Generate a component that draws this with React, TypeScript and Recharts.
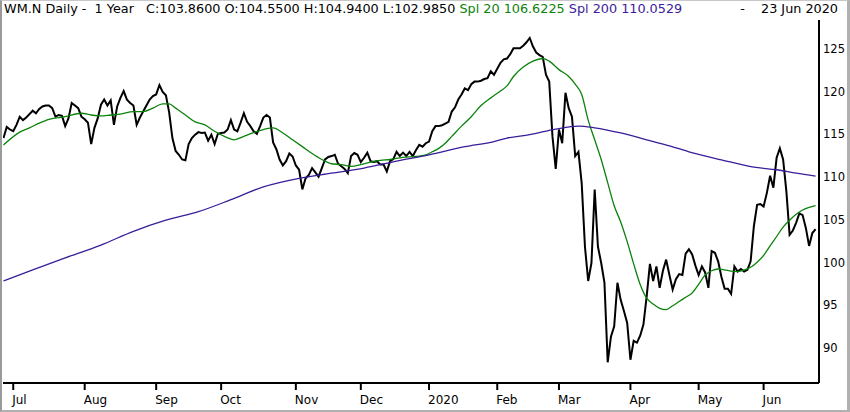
import React from "react";
import { LineChart, Line, XAxis, YAxis } from "recharts";

// Daily closes, trading-day index 0 (26 Jun 2019) .. 250 (23 Jun 2020)
const closes: number[] = [
  114.5, 115.8, 115.5, 115.3, 116.05, 117.0, 116.6, 116.9, 117.3, 117.7,
  117.4, 117.9, 118.2, 118.3, 118.3, 118.0, 117.0, 117.2, 117.1, 115.9,
  116.8, 118.6, 118.3, 118.0, 117.0, 116.7, 116.3, 113.8, 115.7, 116.8,
  118.4, 119.0, 118.3, 118.9, 116.05, 118.2, 119.2, 120.0, 119.0, 118.6,
  118.3, 116.05, 116.9, 117.6, 118.3, 119.0, 119.4, 119.6, 120.7, 119.9,
  119.5, 117.5, 114.5, 113.0, 112.55, 112.0, 111.9, 113.8, 114.5, 114.9,
  115.2, 115.1, 115.15, 114.2, 114.9, 113.8, 115.0, 115.1, 115.15, 115.5,
  116.6, 115.5, 115.3, 116.3, 117.4, 116.4, 115.9, 115.3, 115.0, 115.9,
  116.9, 117.2, 116.9, 114.0, 113.2, 112.0, 111.3, 111.8, 112.7, 112.35,
  111.3, 110.8, 108.5, 109.8, 110.2, 111.0, 110.5, 110.0, 111.0, 112.0,
  112.3, 112.4, 112.55, 111.5, 111.2, 110.9, 110.4, 112.4, 112.75, 112.55,
  111.7, 112.2, 112.8, 111.8, 111.7, 111.8, 111.4, 111.4, 110.6, 111.8,
  112.05, 112.9, 112.4, 112.8, 112.4, 112.9, 112.4, 113.1, 113.7, 113.5,
  113.9, 114.1, 115.3, 115.9, 115.9, 116.0, 116.2, 116.4, 117.6, 118.1,
  119.0, 119.6, 120.3, 120.1, 120.8, 121.1, 121.1, 121.2, 121.4, 121.5,
  122.3, 121.9, 122.6, 123.3, 123.7, 123.8, 124.3, 125.0, 125.0, 125.0,
  125.3, 125.7, 126.2, 125.2, 124.5, 124.2, 124.0, 121.9, 121.1, 114.7,
  110.9, 115.5, 113.9, 119.8, 118.0, 117.0, 112.4, 112.9, 109.2, 101.8,
  97.8, 99.9, 108.5, 101.8, 99.9, 97.6, 88.3, 91.3, 92.5, 97.6,
  95.6, 94.3, 92.9, 88.6, 90.8, 90.6, 91.4, 92.7, 96.0, 99.8,
  97.8, 99.5, 97.0, 99.0, 100.3, 98.5, 96.8, 98.0, 98.6, 98.5,
  101.0, 101.5, 100.9, 99.6, 98.5, 99.5, 98.8, 97.0, 101.3, 101.1,
  100.1, 98.3, 96.9, 96.9, 96.3, 99.5, 98.9, 99.2, 98.9, 99.1,
  100.1, 104.2, 106.7, 106.8, 106.5, 108.1, 110.1, 108.7, 112.2, 113.3,
  112.0, 108.3, 103.2, 103.7, 104.6, 105.7, 105.5, 104.0, 101.9, 103.4,
  103.86,
];

// Spl 20 read at selected trading days
const spl20Days: number[] = [
  0, 5, 8, 11, 14, 19, 24, 27, 30, 33, 36, 40, 43, 46, 49, 51, 53, 56, 59, 62,
  65, 68, 71, 74, 77, 80, 83, 86, 89, 92, 95, 98, 101, 104, 107, 110, 113, 116, 119, 122,
  125, 128, 130, 132, 134, 136, 138, 141, 144, 147, 150, 153, 155, 157, 160, 163, 166, 168, 171, 174,
  176, 178, 180, 182, 184, 186, 188, 190, 192, 194, 196, 198, 200, 202, 204, 206, 208, 210, 212, 214,
  216, 218, 220, 222, 224, 226, 228, 230, 232, 234, 236, 238, 240, 242, 244, 246, 248, 250,
];
const spl20Values: number[] = [
  113.7, 115.2, 115.7, 116.25, 116.7, 117.0, 117.4, 117.2, 117.1, 117.2, 117.3, 117.6, 117.6, 118.0, 118.5, 118.5, 118.0, 117.2, 116.4, 116.05,
  115.3, 114.7, 114.3, 114.7, 115.15, 115.5, 115.7, 115.1, 114.3, 113.5, 112.7, 112.0, 111.5, 111.4, 111.2, 111.4, 111.7, 111.9, 112.0, 112.2,
  112.3, 112.4, 112.55, 112.9, 113.3, 113.9, 114.7, 115.9, 117.0, 118.3, 119.2, 120.0, 120.6, 121.7, 122.8, 123.5, 123.8, 123.5, 122.5, 121.7,
  120.8, 119.6, 116.6, 114.3, 112.0, 109.3, 106.6, 104.7, 102.4, 99.8, 97.4, 95.8, 95.1, 94.6, 94.45, 94.9, 95.4, 95.9, 96.4, 97.4,
  98.5, 99.0, 99.2, 99.1, 98.95, 98.9, 99.1, 99.4, 100.0, 100.8, 101.9, 103.0, 104.1, 104.9, 105.6, 106.1, 106.4, 106.62,
];

// Spl 200 read at selected trading days
const spl200Days: number[] = [
  0, 9, 19, 30, 40, 50, 60, 70, 80, 91, 101, 111, 121, 131, 142, 151, 155, 162, 170, 177,
  182, 190, 198, 205, 211, 221, 231, 238, 244, 250,
];
const spl200Values: number[] = [
  97.8, 99.1, 100.5, 102.0, 103.6, 104.9, 105.9, 107.3, 108.8, 109.8, 110.4, 111.0, 111.8, 112.55, 113.5, 114.1, 114.5, 114.9, 115.55, 115.9,
  115.7, 115.1, 114.3, 113.6, 112.9, 111.96, 111.1, 110.8, 110.4, 110.05,
];

const monthTickDays: number[] = [3, 25, 47, 67, 90, 110, 131, 152, 171, 193, 214, 234];
const monthTickLabels: string[] = ["Jul", "Aug", "Sep", "Oct", "Nov", "Dec", "2020", "Feb", "Mar", "Apr", "May", "Jun"];
const priceTicks: number[] = [90, 95, 100, 105, 110, 115, 120, 125];

const closeData = closes.map((c, i) => ({ i, c }));
const spl20Data = spl20Days.map((d, k) => ({ i: d, v: spl20Values[k] }));
const spl200Data = spl200Days.map((d, k) => ({ i: d, v: spl200Values[k] }));

const FONT = "'DejaVu Sans', sans-serif";
const GREEN = "#0b830b";
const PURPLE = "#3a1d9a";

const XTick = (props: any) => {
  const { x, y, payload } = props;
  const idx = monthTickDays.indexOf(payload.value);
  return (
    <text x={x - 1} y={y + 12} textAnchor="start" fontFamily={FONT} fontSize={12} fill="#000">
      {idx >= 0 ? monthTickLabels[idx] : ""}
    </text>
  );
};

const YTick = (props: any) => {
  const { y, payload } = props;
  return (
    <text x={823} y={y + 4.5} textAnchor="start" fontFamily={FONT} fontSize={11.5} fill="#000">
      {payload.value}
    </text>
  );
};

export default function App() {
  return (
    <div style={{ position: "relative", width: 850, height: 412, background: "#fff", overflow: "hidden" }}>
      <style>{`body{margin:0;background:#fff;}`}</style>
      <div style={{ position: "absolute", left: 0, top: 0 }}>
        <LineChart width={850} height={412} data={closeData} margin={{ top: 20, right: 0, bottom: 0, left: 3 }}>
          <XAxis
            dataKey="i"
            type="number"
            domain={[-0.15, 251.05]}
            allowDataOverflow
            ticks={monthTickDays}
            interval={0}
            height={29}
            axisLine={{ stroke: "#000", strokeWidth: 2 }}
            tickLine={{ stroke: "#000", strokeWidth: 2 }}
            tickSize={7}
            tick={<XTick />}
          />
          <YAxis
            orientation="right"
            type="number"
            domain={[85.88, 128.3]}
            allowDataOverflow
            ticks={priceTicks}
            interval={0}
            width={31}
            axisLine={{ stroke: "#000", strokeWidth: 2 }}
            tickLine={false}
            tick={<YTick />}
          />
          <Line
            data={closeData}
            dataKey="c"
            type="linear"
            stroke="#000"
            strokeWidth={2}
            dot={false}
            activeDot={false}
            isAnimationActive={false}
          />
          <Line
            data={spl20Data}
            dataKey="v"
            type="monotone"
            stroke={GREEN}
            strokeWidth={1.3}
            dot={false}
            activeDot={false}
            isAnimationActive={false}
          />
          <Line
            data={spl200Data}
            dataKey="v"
            type="monotone"
            stroke={PURPLE}
            strokeWidth={1.3}
            dot={false}
            activeDot={false}
            isAnimationActive={false}
          />
        </LineChart>
      </div>
      <div
        style={{
          position: "absolute",
          left: 4,
          top: 2,
          fontFamily: FONT,
          fontSize: 12.8,
          lineHeight: "14px",
          whiteSpace: "pre",
          color: "#000",
        }}
      >
        {"WM.N Daily -  1 Year   C:103.8600 O:104.5500 H:104.9400 L:102.9850 "}
        <span style={{ color: GREEN }}>{"Spl 20 106.6225 "}</span>
        <span style={{ color: PURPLE }}>{"Spl 200 110.0529"}</span>
      </div>
      <div
        style={{
          position: "absolute",
          right: 12,
          top: 2,
          fontFamily: FONT,
          fontSize: 12.8,
          lineHeight: "14px",
          whiteSpace: "pre",
          color: "#000",
        }}
      >
        {"-    23 Jun 2020"}
      </div>
      <div
        style={{
          position: "absolute",
          left: 0,
          top: 0,
          width: 850,
          height: 412,
          boxSizing: "border-box",
          borderLeft: "2px solid #9a9a9a",
          borderRight: "3px solid #b0b0b0",
          borderBottom: "2px solid #b0b0b0",
          borderTop: "1px solid #c8c8c8",
          pointerEvents: "none",
        }}
      />
    </div>
  );
}
